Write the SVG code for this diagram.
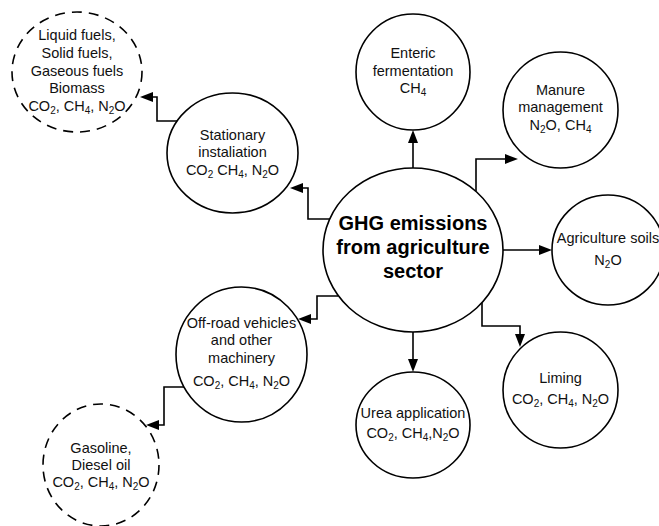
<svg xmlns="http://www.w3.org/2000/svg" width="659" height="526" viewBox="0 0 659 526">
<style>
.n{fill:#fff;stroke:#000;stroke-width:1.6}
.d{fill:#fff;stroke:#000;stroke-width:1.6;stroke-dasharray:10 7}
.t{font-family:"Liberation Sans",Arial,sans-serif;font-size:14.5px;fill:#111;text-anchor:middle}
.b{font-family:"Liberation Sans",Arial,sans-serif;font-size:20px;font-weight:bold;fill:#000;text-anchor:middle}
.s{font-size:10px}
.e{fill:none;stroke:#000;stroke-width:1.6}
</style>
<defs>
<marker id="a" markerUnits="userSpaceOnUse" markerWidth="14" markerHeight="10" refX="0" refY="5" orient="auto" overflow="visible">
<path d="M0,0 L13,5 L0,10 z" fill="#000"/>
</marker>
</defs>
<g id="connectors">
<path class="e" d="M330,219 H308 V188 H303" marker-end="url(#a)"/>
<path class="e" d="M413,168 V143" marker-end="url(#a)"/>
<path class="e" d="M476,191 V159 H505" marker-end="url(#a)"/>
<path class="e" d="M503,250 H539" marker-end="url(#a)"/>
<path class="e" d="M482,302 V326 H520 V334" marker-end="url(#a)"/>
<path class="e" d="M413,332 V359" marker-end="url(#a)"/>
<path class="e" d="M338,296 H317 V319 H311" marker-end="url(#a)"/>
<path class="e" d="M177,121 H157 V97 H153" marker-end="url(#a)"/>
<path class="e" d="M184,387 H164 V425 H159" marker-end="url(#a)"/>
</g>
<g id="liquid">
<ellipse class="d" cx="77" cy="72" rx="65" ry="60"/>
<text class="t" x="77" y="40">Liquid fuels,</text>
<text class="t" x="77" y="58">Solid fuels,</text>
<text class="t" x="77" y="76">Gaseous fuels</text>
<text class="t" x="77" y="93">Biomass</text>
<text class="t" x="77" y="111">CO<tspan class="s" dy="3">2</tspan><tspan dy="-3">, CH</tspan><tspan class="s" dy="3">4</tspan><tspan dy="-3">, N</tspan><tspan class="s" dy="3">2</tspan><tspan dy="-3">O</tspan></text>
</g>
<g id="stationary">
<ellipse class="n" cx="232.5" cy="153" rx="65.5" ry="60"/>
<text class="t" x="232.5" y="140">Stationary</text>
<text class="t" x="232.5" y="157">instaliation</text>
<text class="t" x="232.5" y="175">CO<tspan class="s" dy="3">2</tspan><tspan dy="-3"> CH</tspan><tspan class="s" dy="3">4</tspan><tspan dy="-3">, N</tspan><tspan class="s" dy="3">2</tspan><tspan dy="-3">O</tspan></text>
</g>
<g id="enteric">
<ellipse class="n" cx="413" cy="72" rx="57" ry="58"/>
<text class="t" x="413" y="58">Enteric</text>
<text class="t" x="413" y="76">fermentation</text>
<text class="t" x="413" y="93">CH<tspan class="s" dy="3">4</tspan></text>
</g>
<g id="manure">
<ellipse class="n" cx="560.5" cy="110" rx="57.5" ry="58"/>
<text class="t" x="560.5" y="95">Manure</text>
<text class="t" x="560.5" y="112">management</text>
<text class="t" x="560.5" y="130">N<tspan class="s" dy="3">2</tspan><tspan dy="-3">O, CH</tspan><tspan class="s" dy="3">4</tspan></text>
</g>
<g id="center">
<ellipse class="n" cx="413" cy="250" rx="90" ry="82"/>
<text class="b" x="413" y="230">GHG emissions</text>
<text class="b" x="413" y="254">from agriculture</text>
<text class="b" x="413" y="278">sector</text>
</g>
<g id="soils">
<ellipse class="n" cx="608" cy="250" rx="56" ry="55"/>
<text class="t" x="608" y="243">Agriculture soils</text>
<text class="t" x="608" y="265">N<tspan class="s" dy="3">2</tspan><tspan dy="-3">O</tspan></text>
</g>
<g id="liming">
<ellipse class="n" cx="560.5" cy="390" rx="57.5" ry="58"/>
<text class="t" x="560.5" y="383">Liming</text>
<text class="t" x="560.5" y="404">CO<tspan class="s" dy="3">2</tspan><tspan dy="-3">, CH</tspan><tspan class="s" dy="3">4</tspan><tspan dy="-3">, N</tspan><tspan class="s" dy="3">2</tspan><tspan dy="-3">O</tspan></text>
</g>
<g id="urea">
<ellipse class="n" cx="413" cy="425" rx="57" ry="53"/>
<text class="t" x="413" y="418">Urea application</text>
<text class="t" x="413" y="438">CO<tspan class="s" dy="3">2</tspan><tspan dy="-3">, CH</tspan><tspan class="s" dy="3">4</tspan><tspan dy="-3">,N</tspan><tspan class="s" dy="3">2</tspan><tspan dy="-3">O</tspan></text>
</g>
<g id="offroad">
<ellipse class="n" cx="241.5" cy="354.5" rx="65.5" ry="67.5"/>
<text class="t" x="241.5" y="328">Off-road vehicles</text>
<text class="t" x="241.5" y="345">and other</text>
<text class="t" x="241.5" y="363">machinery</text>
<text class="t" x="241.5" y="386">CO<tspan class="s" dy="3">2</tspan><tspan dy="-3">, CH</tspan><tspan class="s" dy="3">4</tspan><tspan dy="-3">, N</tspan><tspan class="s" dy="3">2</tspan><tspan dy="-3">O</tspan></text>
</g>
<g id="gasoline">
<ellipse class="d" cx="101" cy="465" rx="58" ry="61"/>
<text class="t" x="101" y="453">Gasoline,</text>
<text class="t" x="101" y="470">Diesel oil</text>
<text class="t" x="101" y="487">CO<tspan class="s" dy="3">2</tspan><tspan dy="-3">, CH</tspan><tspan class="s" dy="3">4</tspan><tspan dy="-3">, N</tspan><tspan class="s" dy="3">2</tspan><tspan dy="-3">O</tspan></text>
</g>
</svg>
